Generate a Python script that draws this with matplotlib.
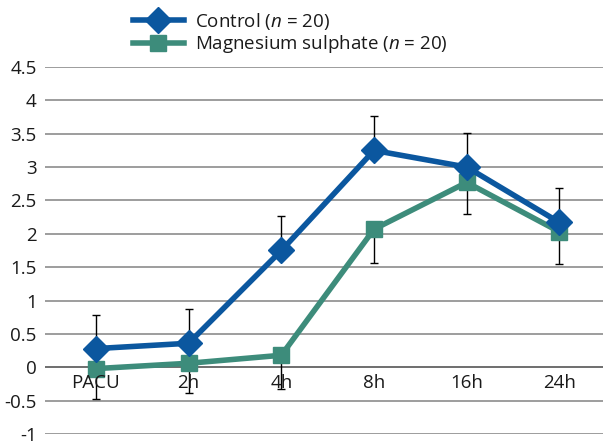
import matplotlib
matplotlib.use("Agg")
import matplotlib.pyplot as plt
import numpy as np

categories = ["PACU", "2h", "4h", "8h", "16h", "24h"]
control = [0.28, 0.36, 1.75, 3.25, 3.00, 2.17]
control_sd = [0.50, 0.52, 0.52, 0.51, 0.51, 0.52]
magnesium = [-0.02, 0.06, 0.18, 2.07, 2.77, 2.03]
magnesium_sd = [0.45, 0.45, 0.50, 0.50, 0.48, 0.48]
yticks = [-1, -0.5, 0, 0.5, 1, 1.5, 2, 2.5, 3, 3.5, 4, 4.5]

plt.rcParams['font.family'] = ['Open Sans', 'DejaVu Sans']
plt.rcParams['mathtext.fontset'] = 'custom'
plt.rcParams['mathtext.it'] = 'Open Sans:italic'
plt.rcParams['mathtext.rm'] = 'Open Sans'
plt.rcParams['text.color'] = '#1a1a1a'
plt.rcParams['ytick.color'] = '#1a1a1a'

blue = '#0b579f'
teal = '#3d8c7b'
fs = 13.5

fig = plt.figure(figsize=(6.03, 4.44), dpi=100)
ax = fig.add_axes([45/603, (444 - 434)/444, 1 - 45/603, (434 - 67)/444])
x = np.arange(len(categories))

ax.errorbar(x, control, yerr=[np.zeros(len(control)), control_sd], fmt='none',
            ecolor='black', elinewidth=1, capsize=3, capthick=1, zorder=2)
ax.errorbar(x, magnesium, yerr=[magnesium_sd, np.zeros(len(magnesium))], fmt='none',
            ecolor='black', elinewidth=1, capsize=3, capthick=1, zorder=2)
ax.plot(x, control, color=blue, lw=4, marker='D', ms=13, zorder=4,
        label='Control ($\\mathit{n}$ = 20)')
ax.plot(x, magnesium, color=teal, lw=4, marker='s', ms=11, zorder=3,
        label='Magnesium sulphate ($\\mathit{n}$ = 20)')

ax.set_ylim(-1, 4.5)
ax.set_xlim(-0.55, 5.47)
ax.set_yticks(yticks)
ax.set_yticklabels([f"{v:g}" for v in yticks])
for v in yticks:
    ax.axhline(v, color='#8c8c8c' if v != 0 else '#555555', lw=1.2, zorder=1)
for s in ax.spines.values():
    s.set_visible(False)
ax.tick_params(axis='y', length=0, pad=6, labelsize=fs)
ax.set_xticks([])
for i, c in enumerate(categories):
    ax.text(i, -0.1, c, ha='center', va='top', fontsize=fs, zorder=5)

fig.legend(loc='upper left', bbox_to_anchor=(118/603, 1.01), frameon=False,
           fontsize=fs, handlelength=2.7, handletextpad=0.6, labelspacing=0.1,
           borderpad=0.3)

fig.savefig('out.png', dpi=100)
